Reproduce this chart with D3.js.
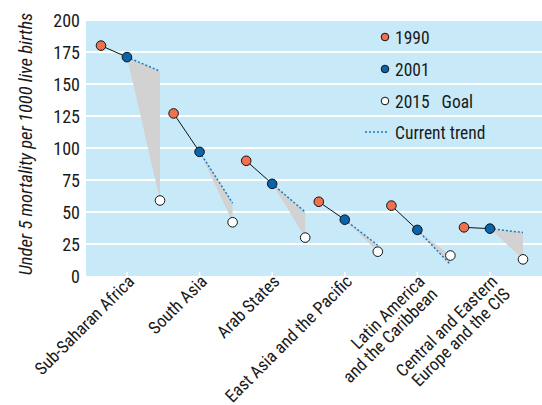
<!doctype html>
<html>
<head>
<meta charset="utf-8">
<script src="https://d3js.org/d3.v7.min.js"></script>
<style>
  body { margin: 0; background: #fff; }
  text { font-family: "Liberation Sans Narrow", "Roboto Condensed", "Liberation Sans", sans-serif; fill: #1a1a1a; }
</style>
</head>
<body>
<script>
// data
var regions = ["Sub-Saharan Africa", "South Asia", "Arab States", "East Asia and the Pacific",
               "Latin America|and the Caribbean", "Central and Eastern|Europe and the CIS"];
var v1990 = [180, 127, 90, 58, 55, 38];
var v2001 = [171, 97, 72, 44, 36, 37];
var trend2015 = [160, 57, 50, 24, 9, 34];
var goal2015 = [59, 42, 30, 19, 16, 13];
var yTicks = [0, 25, 50, 75, 100, 125, 150, 175, 200];

var W = 542, H = 405;
var mLeft = 86, mRight = 542, mTop = 20, mBottom = 276;

var svg = d3.select("body").append("svg")
    .attr("width", W).attr("height", H);

// scales
var x = d3.scaleBand().domain(d3.range(regions.length)).range([mLeft, mLeft + 72.6 * 6]);
var yr = d3.scaleLinear().domain([1990, 2015]).range([15, 74]);
var y = d3.scaleLinear().domain([0, 200]).range([mBottom, mTop]);

// background
svg.append("rect")
    .attr("x", mLeft).attr("y", mTop)
    .attr("width", mRight - mLeft).attr("height", mBottom - mTop)
    .attr("fill", "#c8eaf8");

// grid lines
svg.selectAll(".grid").data(yTicks.slice(1)).enter().append("line")
    .attr("x1", mLeft).attr("x2", mRight)
    .attr("y1", function(d) { return y(d); })
    .attr("y2", function(d) { return y(d); })
    .attr("stroke", "#fff").attr("stroke-width", 1.8);

// y axis labels
svg.selectAll(".ylab").data(yTicks).enter().append("text")
    .attr("x", 80).attr("y", function(d) { return y(d) + 6.5; })
    .attr("text-anchor", "end")
    .attr("font-size", 18)
    .text(function(d) { return d; });

svg.append("text")
    .attr("transform", "translate(32,144) rotate(-90)")
    .attr("text-anchor", "middle")
    .attr("font-size", 18.5)
    .attr("font-style", "italic")
    .text("Under 5 mortality per 1000 live births");

// x ticks
function px(i, year) { return x(i) + yr(year); }

svg.selectAll(".xtick").data(regions).enter().append("line")
    .attr("x1", function(d, i) { return px(i, 2001); })
    .attr("x2", function(d, i) { return px(i, 2001); })
    .attr("y1", mBottom - 4).attr("y2", mBottom)
    .attr("stroke", "#fff").attr("stroke-width", 1.5);

// x labels, right-aligned, rotated
svg.selectAll(".xlab").data(regions).enter().append("text")
    .attr("transform", function(d, i) {
        return "translate(" + (px(i, 2001) + 5) + ",279) rotate(-45)";
    })
    .attr("text-anchor", "end")
    .attr("font-size", 17.5)
    .each(function(d) {
        var t = d3.select(this);
        d.split("|").forEach(function(s, k) {
            t.append("tspan").attr("x", 0).attr("y", 5 + k * 18).text(s);
        });
    });

// gap polygons
svg.selectAll(".gap").data(regions).enter().append("path")
    .attr("d", function(d, i) {
        return "M" + px(i, 2001) + "," + y(v2001[i]) +
               "L" + px(i, 2015) + "," + y(trend2015[i]) +
               "L" + px(i, 2015) + "," + y(goal2015[i]) + "Z";
    })
    .attr("fill", "#d2d2d2");

// trend lines
svg.selectAll(".trend").data(regions).enter().append("line")
    .attr("x1", function(d, i) { return px(i, 2001); })
    .attr("y1", function(d, i) { return y(v2001[i]); })
    .attr("x2", function(d, i) { return px(i, 2015); })
    .attr("y2", function(d, i) { return y(trend2015[i]); })
    .attr("stroke", "#1a78c2").attr("stroke-width", 1.5)
    .attr("stroke-dasharray", "2,2");

// 1990-2001 lines
svg.selectAll(".hist").data(regions).enter().append("line")
    .attr("x1", function(d, i) { return px(i, 1990); })
    .attr("y1", function(d, i) { return y(v1990[i]); })
    .attr("x2", function(d, i) { return px(i, 2001); })
    .attr("y2", function(d, i) { return y(v2001[i]); })
    .attr("stroke", "#111").attr("stroke-width", 1);

// points
function dots(vals, year, fill) {
    svg.selectAll(null).data(vals).enter().append("circle")
        .attr("cx", function(d, i) { return px(i, year); })
        .attr("cy", function(d) { return y(d); })
        .attr("r", 4.8)
        .attr("fill", fill)
        .attr("stroke", "#111").attr("stroke-width", 1);
}
dots(v1990, 1990, "#f0704f");
dots(v2001, 2001, "#0a64ac");
dots(goal2015, 2015, "#ffffff");

// legend
var leg = [["1990", "#f0704f"], ["2001", "#0a64ac"], ["2015   Goal", "#ffffff"]];
leg.forEach(function(l, k) {
    var ly = 37 + k * 32;
    svg.append("circle").attr("cx", 385).attr("cy", ly).attr("r", 3.8)
        .attr("fill", l[1]).attr("stroke", "#111").attr("stroke-width", 1);
    svg.append("text").attr("x", 395).attr("y", ly + 6.5).attr("font-size", 17.5)
        .style("white-space", "pre")
        .text(l[0]);
});
svg.append("line").attr("x1", 365).attr("x2", 388).attr("y1", 132).attr("y2", 132)
    .attr("stroke", "#1a78c2").attr("stroke-width", 1.5).attr("stroke-dasharray", "2,2");
svg.append("text").attr("x", 395).attr("y", 138.5).attr("font-size", 17.5).text("Current trend");
</script>
</body>
</html>
